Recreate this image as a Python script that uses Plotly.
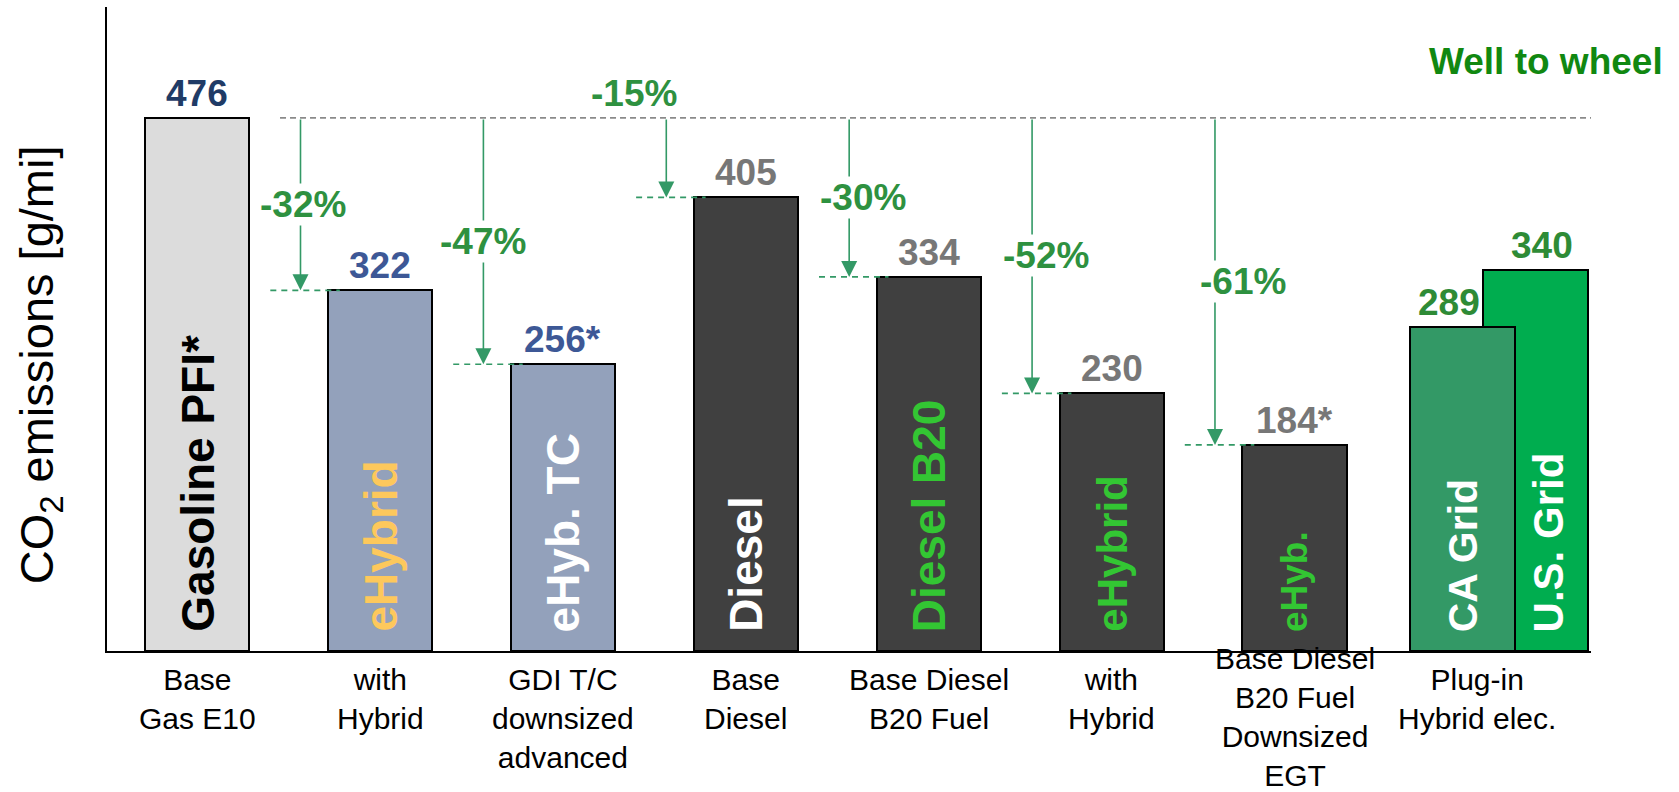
import plotly.graph_objects as go

# ---- data -------------------------------------------------------------
categories = [
    "Base<br>Gas E10",
    "with<br>Hybrid",
    "GDI T/C<br>downsized<br>advanced",
    "Base<br>Diesel",
    "Base Diesel<br>B20 Fuel",
    "with<br>Hybrid",
    "Base Diesel<br>B20 Fuel<br>Downsized<br>EGT",
    "Plug-in<br>Hybrid elec.",
]
bar_names = ["Gasoline PFI*", "eHybrid", "eHyb. TC", "Diesel", "Diesel B20", "eHybrid", "eHyb."]
bar_values = [476, 322, 256, 405, 334, 230, 184]
value_text = ["476", "322", "256*", "405", "334", "230", "184*"]

phev_names = ["CA Grid", "U.S. Grid"]
phev_values = [289, 340]

reference_value = 476
reduction_labels = ["-32%", "-47%", "-15%", "-30%", "-52%", "-61%"]
reduction_targets = [1, 2, 3, 4, 5, 6]

# ---- styles -----------------------------------------------------------
FONT = "Liberation Sans, Arial, sans-serif"
bar_colors = ["#dcdcdc", "#93a1bb", "#93a1bb", "#404040", "#404040", "#404040", "#404040"]
name_colors = ["#000000", "#fdc85c", "#ffffff", "#ffffff", "#33c633", "#33c633", "#33c633"]
name_sizes = [46, 46, 46, 46, 46, 42, 37]
value_colors = ["#1f3b66", "#3d5896", "#3d5896", "#777777", "#777777", "#777777", "#777777"]
phev_colors = ["#339966", "#00ad4f"]
phev_name_sizes = [41, 42]
phev_value_color = "#2e8b36"
ARROW_GREEN = "#339966"
LABEL_GREEN = "#2e9140"
BAR_W = 0.57
# bar offsets for the two plug-in bars (CA sits in front of U.S.)
phev_offsets = [-0.366, 0.03]
phev_widths = [0.572, 0.576]
pct_xshift = [2, 0, -32, 14, 14, 28]

slots = list(range(len(categories)))

fig = go.Figure()

# main bars
fig.add_trace(go.Bar(
    x=slots[:len(bar_values)], y=bar_values, width=BAR_W,
    marker=dict(color=bar_colors, line=dict(color="black", width=2)),
    hoverinfo="skip", showlegend=False,
))
# plug-in hybrid pair: U.S. grid behind, CA grid in front
for k in (1, 0):
    fig.add_trace(go.Bar(
        x=[slots[-1]], y=[phev_values[k]], width=phev_widths[k], offset=phev_offsets[k],
        marker=dict(color=phev_colors[k], line=dict(color="black", width=2)),
        hoverinfo="skip", showlegend=False,
    ))

annotations = []
shapes = []

# reference level of the gasoline base
shapes.append(dict(type="line", xref="x", yref="y", x0=0.453, x1=7.8,
                   y0=reference_value, y1=reference_value,
                   line=dict(color="#8a8a8a", width=1.6, dash="6px,4px"), layer="above"))

# names inside the bars
for i, (name, v) in enumerate(zip(bar_names, bar_values)):
    annotations.append(dict(
        x=slots[i], y=0, xref="x", yref="y", yanchor="bottom", xanchor="center",
        yshift=17, textangle=-90, showarrow=False,
        text=f"<b>{name}</b>", font=dict(family=FONT, size=name_sizes[i], color=name_colors[i]),
    ))
    annotations.append(dict(
        x=slots[i], y=v, xref="x", yref="y", yanchor="bottom", xanchor="center",
        yshift=2, showarrow=False, text=f"<b>{value_text[i]}</b>",
        font=dict(family=FONT, size=37, color=value_colors[i]),
    ))

for k, (name, v) in enumerate(zip(phev_names, phev_values)):
    cx = slots[-1] + phev_offsets[k] + phev_widths[k] / 2
    if k == 1:
        cx += 0.07
    annotations.append(dict(
        x=cx, y=0, xref="x", yref="y", yanchor="bottom", xanchor="center",
        yshift=17, textangle=-90, showarrow=False,
        text=f"<b>{name}</b>", font=dict(family=FONT, size=phev_name_sizes[k], color="white"),
    ))
    annotations.append(dict(
        x=cx, y=v, xref="x", yref="y", yanchor="bottom", xanchor="center",
        xshift=-14 if k == 0 else -6, yshift=2, showarrow=False, text=f"<b>{v}</b>",
        font=dict(family=FONT, size=37, color=phev_value_color),
    ))

# reduction arrows from the gasoline reference level
arrow_list = []
label_list = []
for n, (lab, t) in enumerate(zip(reduction_labels, reduction_targets)):
    v = bar_values[t]
    ax_x = slots[t] - 0.435
    shapes.append(dict(type="line", xref="x", yref="y", x0=ax_x - 0.165, x1=slots[t] - 0.22,
                       y0=v, y1=v, line=dict(color=ARROW_GREEN, width=1.6, dash="6px,5px"),
                       layer="above"))
    arrow_list.append(dict(
        x=ax_x, y=v, ax=ax_x, ay=reference_value, xref="x", yref="y", axref="x", ayref="y",
        text="", showarrow=True, arrowhead=2, arrowsize=2.0, arrowwidth=1.6,
        arrowcolor=ARROW_GREEN, standoff=0, startstandoff=0,
    ))
    if lab == "-15%":
        label_list.append(dict(
            x=ax_x, y=reference_value, xref="x", yref="y", xanchor="center", yanchor="bottom",
            xshift=pct_xshift[n], yshift=2, showarrow=False, text=f"<b>{lab}</b>",
            font=dict(family=FONT, size=37, color=LABEL_GREEN),
        ))
    else:
        label_list.append(dict(
            x=ax_x, y=(reference_value + v) / 2, xref="x", yref="y", xanchor="center",
            yanchor="middle", xshift=pct_xshift[n], showarrow=False, text=f"<b>{lab}</b>",
            bgcolor="white", borderpad=0,
            font=dict(family=FONT, size=37, color=LABEL_GREEN),
        ))
annotations = arrow_list + annotations + label_list

# category labels below the axis
for i, cat in enumerate(categories):
    n_lines = cat.count("<br>") + 1
    annotations.append(dict(
        x=slots[i], y=0, xref="x", yref="y", xanchor="center", yanchor="top",
        yshift=11 if n_lines == 4 else -10, showarrow=False, text=cat,
        font=dict(family=FONT, size=30, color="black"),
    ))

# axis title and corner note
annotations.append(dict(
    x=-0.045, y=0.444, xref="paper", yref="paper", xanchor="center", yanchor="middle",
    textangle=-90, showarrow=False, text="CO<sub>2</sub> emissions [g/mi]",
    font=dict(family=FONT, size=47, color="black"),
))
annotations.append(dict(
    x=1.05, y=0.915, xref="paper", yref="paper", xanchor="right", yanchor="middle",
    showarrow=False, text="<b>Well to wheel</b>",
    font=dict(family=FONT, size=37, color="#118811"),
))

fig.update_layout(
    width=1679, height=792, autosize=False,
    margin=dict(l=107, r=88, t=7, b=141),
    paper_bgcolor="white", plot_bgcolor="white",
    barmode="overlay", bargap=0,
    font=dict(family=FONT),
    xaxis=dict(range=[-0.493, 7.621], showgrid=False, zeroline=False, showticklabels=False,
               ticks="", showline=True, linecolor="black", linewidth=2, fixedrange=True),
    yaxis=dict(range=[0, 575], showgrid=False, zeroline=False, showticklabels=False,
               ticks="", showline=True, linecolor="black", linewidth=1.5, fixedrange=True),
    annotations=annotations,
    shapes=shapes,
)

fig.write_html("out.html")
